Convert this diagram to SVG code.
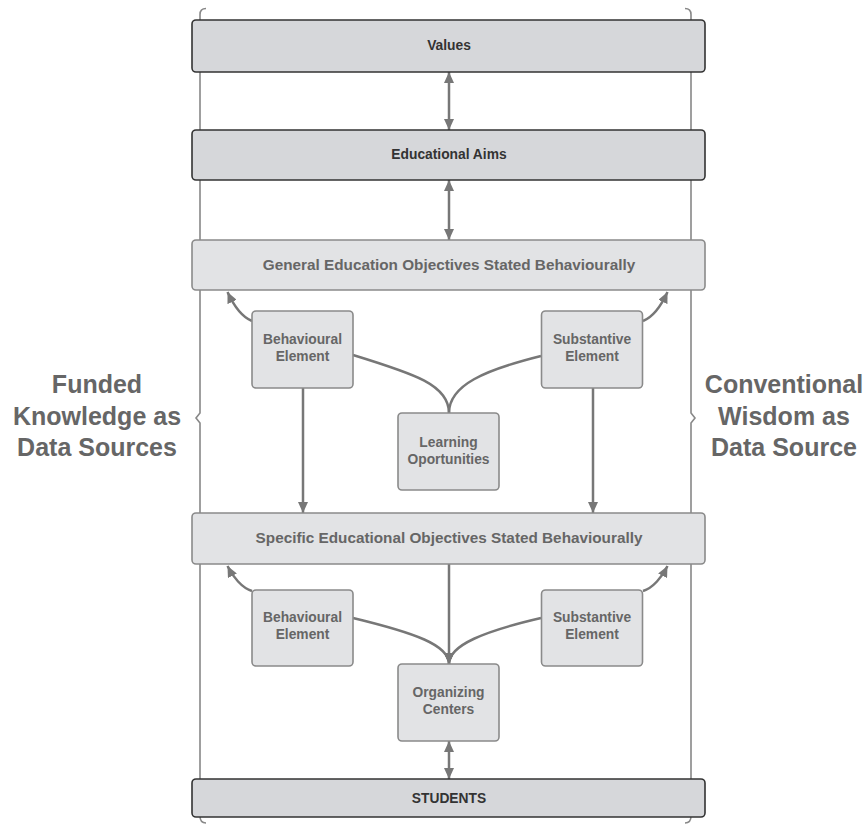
<svg xmlns="http://www.w3.org/2000/svg" width="866" height="826" viewBox="0 0 866 826">
<defs>
<marker id="ah" markerUnits="userSpaceOnUse" markerWidth="12" markerHeight="10" refX="11" refY="5" orient="auto-start-reverse">
<path d="M0,0 L11,5 L0,10 z" fill="#777"/>
</marker>
<style>
.dark rect{fill:#d6d7da;stroke:#333;stroke-width:1.6}
.light rect{fill:#e2e3e5;stroke:#8a8a8a;stroke-width:1.6}
.dark text{fill:#333;font-family:"Liberation Sans",Arial,sans-serif;font-weight:bold;font-size:13.8px;text-anchor:middle}
.light text{fill:#666;font-family:"Liberation Sans",Arial,sans-serif;font-weight:bold;font-size:13.8px;text-anchor:middle}
.light text.big{font-size:15.3px}
.side{fill:#666;font-family:"Liberation Sans",Arial,sans-serif;font-weight:bold;font-size:25px;text-anchor:middle}
.brace{fill:none;stroke:#888;stroke-width:1.6}
.conn path{fill:none;stroke:#777;stroke-width:2.5}
</style>
</defs>
<rect width="866" height="826" fill="#fff"/>
<g id="braces">
<path class="brace" d="M206,8.5 Q200,8.5 200,14.5 L200,413 L196,418 L200,423 L200,816 Q200,823 206,823"/>
<path class="brace" d="M685,8.5 Q691,8.5 691,14.5 L691,413 L695,418 L691,423 L691,816 Q691,823 685,823"/>
</g>
<g id="side-left">
<text class="side" x="97" y="393">Funded</text>
<text class="side" x="97" y="425">Knowledge as</text>
<text class="side" x="97" y="456">Data Sources</text>
</g>
<g id="side-right">
<text class="side" x="784" y="393">Conventional</text>
<text class="side" x="784" y="425">Wisdom as</text>
<text class="side" x="784" y="456">Data Source</text>
</g>
<g class="conn" id="connectors">
<path d="M449,72 L449,130" marker-start="url(#ah)" marker-end="url(#ah)"/>
<path d="M449,180 L449,240" marker-start="url(#ah)" marker-end="url(#ah)"/>
<path d="M252,321 C242,317 233,304 227.5,292" marker-end="url(#ah)"/>
<path d="M643,321 C653,317 662,304 667.5,292" marker-end="url(#ah)"/>
<path d="M353,355 C415,374 449,385 449,413"/>
<path d="M541,356 C485,370 449,385 449,413"/>
<path d="M303,388 L303,513" marker-end="url(#ah)"/>
<path d="M593,388 L593,513" marker-end="url(#ah)"/>
<path d="M252,591 C242,588 233,577 227.5,566" marker-end="url(#ah)"/>
<path d="M643,591 C653,588 662,577 667.5,566" marker-end="url(#ah)"/>
<path d="M449,564 L449,664" marker-end="url(#ah)"/>
<path d="M353,618 C415,633 449,645 449,664" marker-end="url(#ah)"/>
<path d="M541,618 C485,631 449,645 449,664" marker-end="url(#ah)"/>
<path d="M449,741 L449,779" marker-start="url(#ah)" marker-end="url(#ah)"/>
</g>
<g id="values" class="dark"><rect x="192" y="20" width="513" height="52" rx="4"/><text x="449" y="50">Values</text></g>
<g id="aims" class="dark"><rect x="192" y="130" width="513" height="50" rx="4"/><text x="449" y="159">Educational Aims</text></g>
<g id="general" class="light"><rect x="192" y="240" width="513" height="50" rx="4"/><text class="big" x="449" y="270">General Education Objectives Stated Behaviourally</text></g>
<g id="beh1" class="light"><rect x="252" y="311" width="101" height="77" rx="4"/><text x="302.5" y="344">Behavioural</text><text x="302.5" y="361">Element</text></g>
<g id="sub1" class="light"><rect x="541.5" y="311" width="101" height="77" rx="4"/><text x="592" y="344">Substantive</text><text x="592" y="361">Element</text></g>
<g id="learning" class="light"><rect x="398" y="413" width="101" height="77" rx="4"/><text x="448.5" y="447">Learning</text><text x="448.5" y="464">Oportunities</text></g>
<g id="specific" class="light"><rect x="192" y="513" width="513" height="51" rx="4"/><text class="big" x="449" y="543">Specific Educational Objectives Stated Behaviourally</text></g>
<g id="beh2" class="light"><rect x="252" y="590" width="101" height="76" rx="4"/><text x="302.5" y="622">Behavioural</text><text x="302.5" y="639">Element</text></g>
<g id="sub2" class="light"><rect x="541.5" y="590" width="101" height="76" rx="4"/><text x="592" y="622">Substantive</text><text x="592" y="639">Element</text></g>
<g id="organizing" class="light"><rect x="398" y="664" width="101" height="77" rx="4"/><text x="448.5" y="697">Organizing</text><text x="448.5" y="714">Centers</text></g>
<g id="students" class="dark"><rect x="192" y="779" width="513" height="38" rx="4"/><text x="449" y="803">STUDENTS</text></g>
</svg>
